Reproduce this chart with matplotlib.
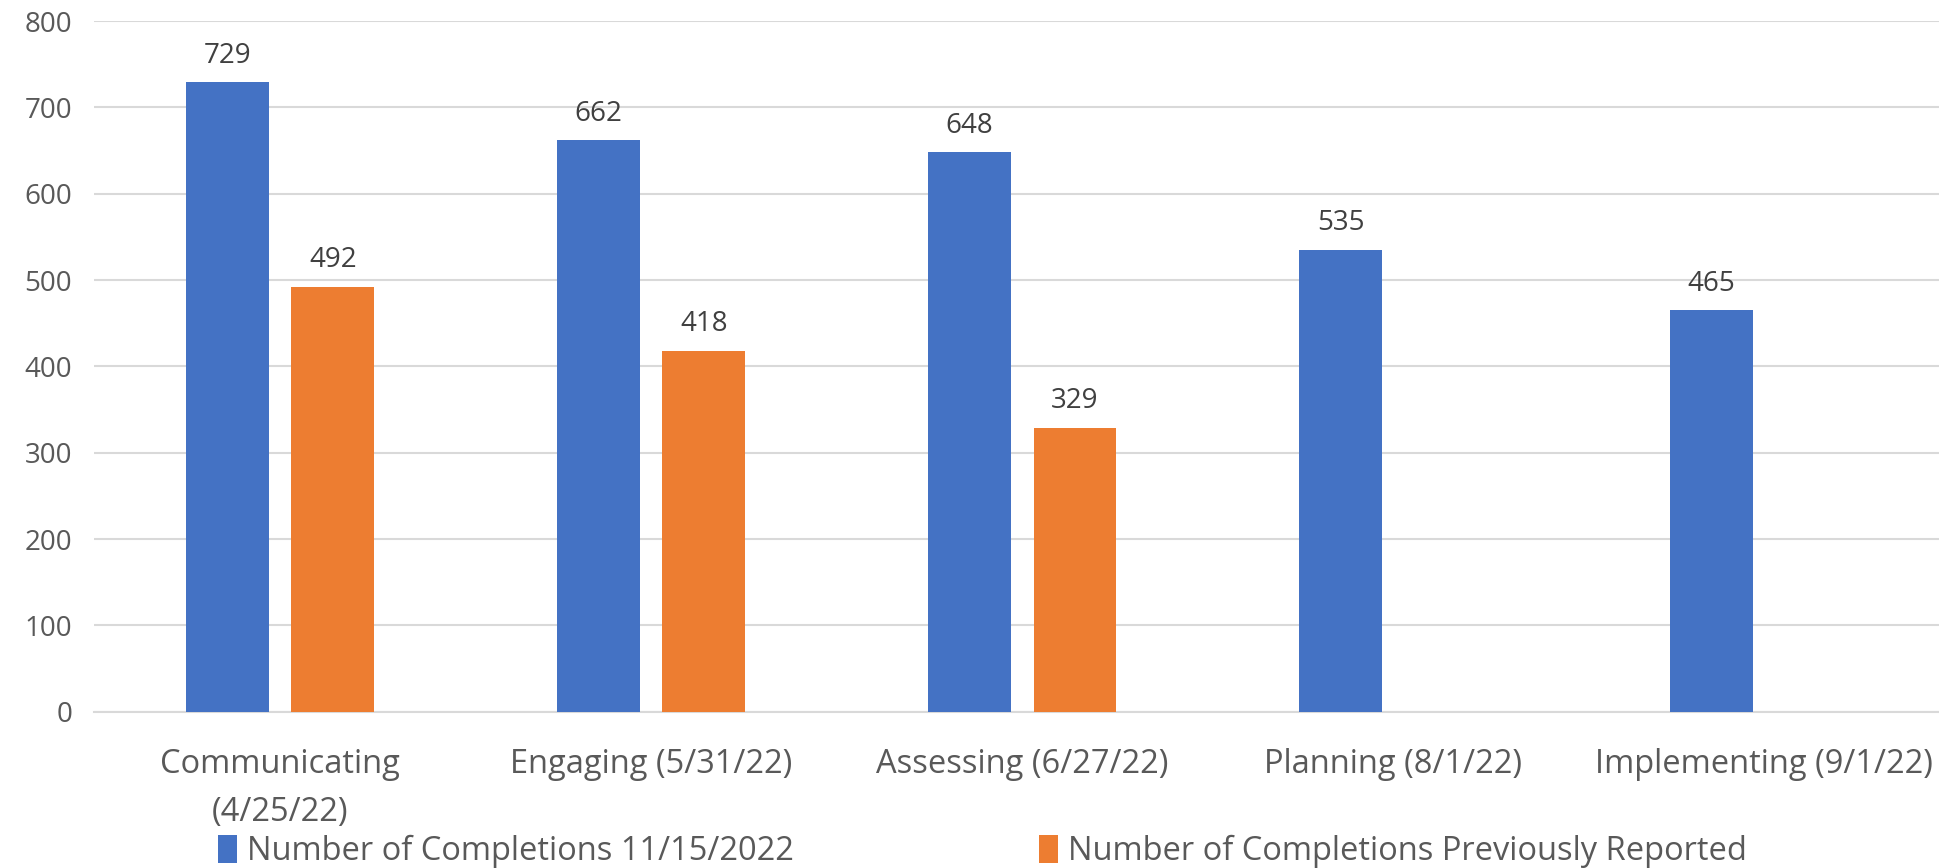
import numpy as np
import matplotlib.pyplot as plt

plt.rcParams['font.family'] = ['Open Sans', 'DejaVu Sans']

categories = ["Communicating\n(4/25/22)", "Engaging (5/31/22)", "Assessing (6/27/22)",
              "Planning (8/1/22)", "Implementing (9/1/22)"]
current = [729, 662, 648, 535, 465]
previous = [492, 418, 329, np.nan, np.nan]
series_names = ["Number of Completions 11/15/2022", "Number of Completions Previously Reported"]

blue = "#4472C4"
orange = "#ED7D31"

fig = plt.figure(figsize=(19.4, 8.68), dpi=100)
ax = fig.add_axes([0.0487, 0.18, 0.9564, 0.7958])

x = np.arange(len(categories))
w = 0.223
off = 0.142

b1 = ax.bar(x - off, current, w, color=blue, label=series_names[0], zorder=3)
b2 = ax.bar(x + off, previous, w, color=orange, label=series_names[1], zorder=3)

for bars, vals in [(b1, current), (b2, previous)]:
    for rect, v in zip(bars, vals):
        if np.isnan(v):
            continue
        ax.annotate(f"{v:.0f}", (rect.get_x() + rect.get_width() / 2, v),
                    xytext=(0, 9), textcoords="offset points",
                    ha="center", va="bottom", fontsize=20, color="#404040")

ax.set_xlim(-0.5, 4.5)
ax.set_ylim(0, 800)
ax.set_yticks(range(0, 801, 100))
ax.set_xticks(x)
ax.set_xticklabels(categories, fontsize=23.5, color="#595959", linespacing=1.6)
ax.tick_params(axis="y", labelsize=20, labelcolor="#595959", length=0, pad=16)
ax.tick_params(axis="x", length=0, pad=26)

ax.grid(axis="y", color="#d9d9d9", linewidth=1.5, zorder=0)
for s in ["top", "right", "left"]:
    ax.spines[s].set_visible(False)
ax.spines["bottom"].set_color("#d9d9d9")
ax.spines["bottom"].set_linewidth(1.5)

leg = fig.legend(loc="lower left", bbox_to_anchor=(0.097, -0.034), ncol=2, frameon=False,
                 fontsize=23.5, handlelength=0.6, handleheight=0.95, handletextpad=0.3,
                 columnspacing=7.5, labelcolor="#595959")

fig.savefig("out.png", dpi=100)
